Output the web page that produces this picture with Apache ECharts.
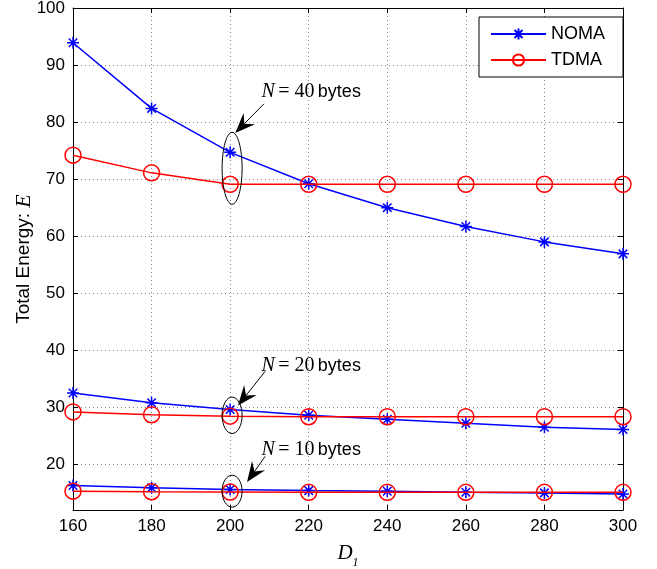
<!DOCTYPE html>
<html><head><meta charset="utf-8">
<script src="https://cdn.jsdelivr.net/npm/echarts@6/dist/echarts.min.js"></script>
<style>html,body{margin:0;padding:0;background:#fff}#c{width:657px;height:569px}</style>
</head><body><div id="c"></div>
<script>
const xValues = [160, 180, 200, 220, 240, 260, 280, 300];
const noma40 = [93.9, 82.4, 74.7, 69.2, 65.0, 61.7, 59.0, 56.9];
const tdma40 = [74.2, 71.1, 69.1, 69.1, 69.1, 69.1, 69.1, 69.1];
const noma20 = [32.5, 30.8, 29.6, 28.6, 27.9, 27.2, 26.5, 26.1];
const tdma20 = [29.2, 28.7, 28.45, 28.35, 28.35, 28.35, 28.35, 28.35];
const noma10 = [16.3, 15.9, 15.6, 15.4, 15.3, 15.1, 15.0, 14.8];
const tdma10 = [15.3, 15.2, 15.15, 15.1, 15.1, 15.1, 15.1, 15.1];
const annotLabels = ['40', '20', '10'];

const SANS = '"Liberation Sans", Arial, sans-serif';
const SERIF = '"Liberation Serif", "Times New Roman", serif';
const BLUE = '#0000ff', RED = '#ff0000';
const STAR = 'path://M0,-10L0,10M-10,0L10,0M-7.07,-7.07L7.07,7.07M-7.07,7.07L7.07,-7.07';

function pairs(v) { return xValues.map((x, i) => [x, v[i]]); }
function noma(v) {
  return { name: 'NOMA', type: 'line', data: pairs(v), symbol: STAR, symbolSize: 12,
    lineStyle: { color: BLUE, width: 1.5 },
    itemStyle: { color: BLUE, borderColor: BLUE, borderWidth: 1.5 }, z: 2 };
}
function tdma(v) {
  return { name: 'TDMA', type: 'line', data: pairs(v), symbol: 'circle', symbolSize: 16,
    lineStyle: { color: RED, width: 1.5 },
    itemStyle: { color: 'rgba(0,0,0,0)', borderColor: RED, borderWidth: 1.5 }, z: 3 };
}

const chart = echarts.init(document.getElementById('c'), null, { renderer: 'canvas' });
const gridLine = { show: true, lineStyle: { color: '#888', width: 1, type: [1, 3] } };
chart.setOption({
  animation: false,
  backgroundColor: '#fff',
  grid: { left: 73, right: 34, top: 8, bottom: 59, containLabel: false, outerBoundsMode: 'none' },
  legend: {
    orient: 'vertical', left: 479, top: 17, data: ['NOMA', 'TDMA'],
    itemWidth: 55, itemHeight: 14, itemGap: 8,
    padding: [8, 18, 8, 11], borderColor: '#000', borderWidth: 1, borderRadius: 0,
    backgroundColor: '#fff',
    textStyle: { fontFamily: SANS, fontSize: 18, color: '#000' }
  },
  xAxis: [{
    type: 'value', min: 160, max: 300, interval: 20, position: 'bottom',
    name: '{d|D}{s|1}', nameLocation: 'middle', nameGap: 33, nameMoveOverlap: false,
    nameTextStyle: { rich: {
      d: { fontFamily: SERIF, fontStyle: 'italic', fontSize: 21, lineHeight: 26, verticalAlign: 'top', color: '#000' },
      s: { fontFamily: SERIF, fontStyle: 'italic', fontSize: 12, lineHeight: 14, verticalAlign: 'bottom', color: '#000' } } },
    axisLine: { show: true, lineStyle: { color: '#000', width: 1 } },
    axisTick: { show: true, inside: true, length: 5, lineStyle: { color: '#000' } },
    axisLabel: { fontFamily: SANS, fontSize: 17, color: '#000', margin: 8 },
    splitLine: gridLine
  }, {
    type: 'value', min: 160, max: 300, interval: 20, position: 'top',
    axisLine: { show: true, lineStyle: { color: '#000', width: 1 } },
    axisTick: { show: true, inside: true, length: 5, lineStyle: { color: '#000' } },
    axisLabel: { show: false }, splitLine: { show: false }
  }],
  yAxis: [{
    type: 'value', min: 12, max: 100, splitNumber: 9, position: 'left',
    name: 'Total Energy: {e|E}', nameLocation: 'middle', nameGap: 38, nameRotate: 90,
    nameMoveOverlap: false,
    nameTextStyle: { fontFamily: SANS, fontSize: 19, color: '#000', rich: {
      e: { fontFamily: SERIF, fontStyle: 'italic', fontSize: 22, color: '#000' } } },
    axisLine: { show: true, lineStyle: { color: '#000', width: 1 } },
    axisTick: { show: true, inside: true, length: 5, lineStyle: { color: '#000' } },
    axisLabel: { fontFamily: SANS, fontSize: 17, color: '#000', margin: 8, showMinLabel: false },
    splitLine: gridLine
  }, {
    type: 'value', min: 12, max: 100, splitNumber: 9, position: 'right',
    axisLine: { show: true, lineStyle: { color: '#000', width: 1 } },
    axisTick: { show: true, inside: true, length: 5, lineStyle: { color: '#000' } },
    axisLabel: { show: false }, splitLine: { show: false }
  }],
  series: [noma(noma40), tdma(tdma40), noma(noma20), tdma(tdma20), noma(noma10), tdma(tdma10)]
});

// annotation anchors in data coordinates
const ellipseCenters = [[200.5, 71.9], [200.5, 28.6], [200.5, 15.3]];
const ellipseRy = [6.3, 3.2, 2.8];
const textAnchors = [[208, 85.3], [208, 37.3], [208, 22.6]];
const arrowStarts = [[208.6, 83.2], [208.9, 36.3], [208.9, 21.4]];
const arrowTips = [[201.3, 78.1], [202.0, 30.3], [204.3, 16.9]];

function px(p) { return chart.convertToPixel({ xAxisIndex: 0, yAxisIndex: 0 }, p); }
const els = [];
for (let i = 0; i < 3; i++) {
  const c = px(ellipseCenters[i]);
  const top = px([ellipseCenters[i][0], ellipseCenters[i][1] + ellipseRy[i]]);
  els.push({ type: 'ellipse', shape: { cx: c[0], cy: c[1], rx: 10, ry: c[1] - top[1] },
    style: { fill: null, stroke: '#000', lineWidth: 1 }, z: 100 });
  const t = px(textAnchors[i]);
  els.push({ type: 'text', x: t[0], y: t[1], z: 100, style: {
    text: '{n|N} {m|= ' + annotLabels[i] + '} {b|bytes}', verticalAlign: 'middle', align: 'left',
    rich: {
      n: { fontFamily: SERIF, fontStyle: 'italic', fontSize: 20, fill: '#000' },
      m: { fontFamily: SERIF, fontSize: 20, fill: '#000' },
      b: { fontFamily: SANS, fontSize: 18, fill: '#000' } } } });
  const s = px(arrowStarts[i]), e = px(arrowTips[i]);
  const dx = e[0] - s[0], dy = e[1] - s[1], L = Math.hypot(dx, dy);
  const ux = dx / L, uy = dy / L, nx = -uy, ny = ux;
  const hl = 20, hw = 8, notch = 13;
  els.push({ type: 'line', shape: { x1: s[0], y1: s[1], x2: e[0] - ux * notch, y2: e[1] - uy * notch },
    style: { stroke: '#000', lineWidth: 1 }, z: 100 });
  els.push({ type: 'polygon', shape: { points: [
    [e[0], e[1]],
    [e[0] - ux * hl + nx * hw, e[1] - uy * hl + ny * hw],
    [e[0] - ux * notch, e[1] - uy * notch],
    [e[0] - ux * hl - nx * hw, e[1] - uy * hl - ny * hw]] },
    style: { fill: '#000' }, z: 100 });
}
chart.setOption({ graphic: { elements: els } });
</script></body></html>
